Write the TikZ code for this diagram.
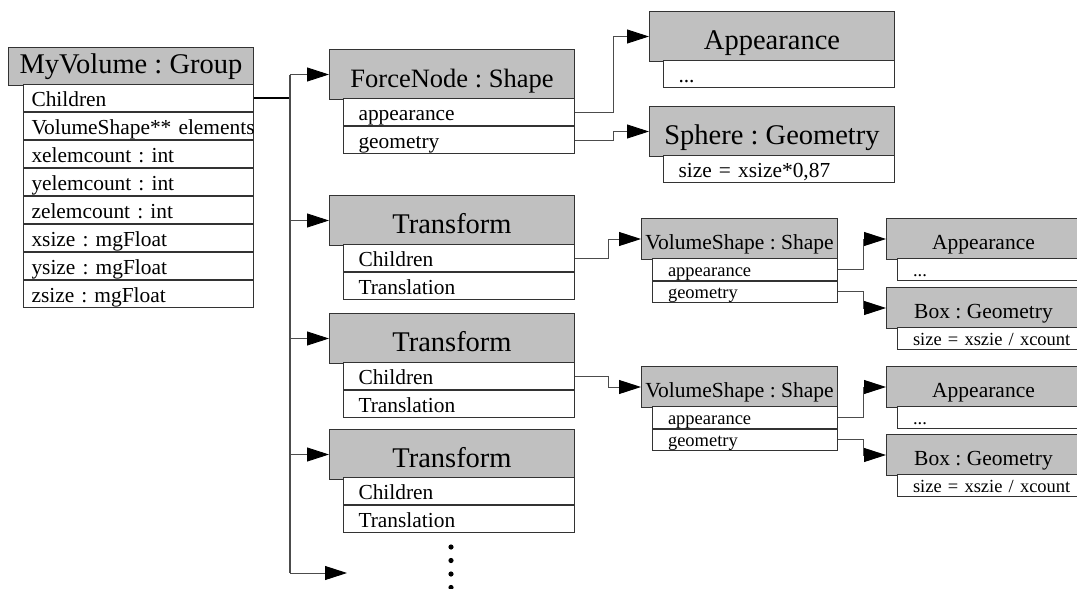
\documentclass[tikz,border=0pt]{standalone}
\usepackage{fontspec}
\setmainfont{Liberation Serif}
\usetikzlibrary{arrows.meta,positioning}
\definecolor{hdrgray}{RGB}{192,192,192}
\frenchspacing
\hyphenpenalty=10000
\begin{document}
\begin{tikzpicture}[x=1pt, y=-1pt,
            umlbox/.style={draw=black!80, line width=1pt, inner sep=0pt, anchor=north west},
            bighdr/.style={umlbox, fill=hdrgray, minimum width=#1, minimum height=50pt, text height=38pt, text depth=12pt, font=\fontsize{28.5}{30}\selectfont},
            smallhdr/.style={umlbox, fill=hdrgray, minimum width=#1, minimum height=41pt, text height=30.5pt, text depth=10.5pt, font=\fontsize{21.5}{23}\selectfont},
            bigfield/.style={umlbox, fill=white, minimum width=#1, text width=#1-30pt, align=left, minimum height=27pt, text height=21.5pt, text depth=5.5pt, font=\fontsize{21.4}{23}\selectfont},
            smallfield/.style={umlbox, fill=white, minimum width=#1, text width=#1-31pt, align=left, minimum height=21.5pt, text height=17.5pt, text depth=4pt, font=\fontsize{18.5}{20}\selectfont},
            link/.style={draw=black!70, line width=0.9pt},
            arrowlink/.style={link, -{Triangle[length=22pt,width=14pt,black]}}
            ]
            \useasboundingbox (0,0) rectangle (1077,589);

            % the group
            \node[bighdr=245pt, minimum height=38pt, text height=26pt] (grp) at (8,47) {MyVolume : Group};
            \node[bigfield=230pt, text width=214pt] (grp-ch) at ([xshift=15pt,yshift=2pt]grp.south west) {Children};
            \node[bigfield=230pt, text width=214pt, below=0pt of grp-ch] (grp-el) {\mbox{VolumeShape** elements}};
            \node[bigfield=230pt, text width=214pt, below=0pt of grp-el] (grp-xc) {xelemcount : int};
            \node[bigfield=230pt, text width=214pt, below=0pt of grp-xc] (grp-yc) {yelemcount : int};
            \node[bigfield=230pt, text width=214pt, below=0pt of grp-yc] (grp-zc) {zelemcount : int};
            \node[bigfield=230pt, text width=214pt, below=0pt of grp-zc] (grp-xs) {xsize : mgFloat};
            \node[bigfield=230pt, text width=214pt, below=0pt of grp-xs] (grp-ys) {ysize : mgFloat};
            \node[bigfield=230pt, text width=214pt, below=0pt of grp-ys] (grp-zs) {zsize : mgFloat};

            % force node
            \node[bighdr=245pt, font=\fontsize{26.5}{28}\selectfont] (fn) at (329,49) {ForceNode : Shape};
            \node[bigfield=231pt] (fn-app) at ([xshift=14pt,yshift=2pt]fn.south west) {appearance};
            \node[bigfield=231pt, below=0pt of fn-app] (fn-geo) {geometry};

            \node[bighdr=245pt] (app) at (649,11) {Appearance};
            \node[bigfield=231pt] (app-dots) at ([xshift=14pt,yshift=2pt]app.south west) {...};
            \node[bighdr=245pt] (sph) at (649,106) {Sphere : Geometry};
            \node[bigfield=231pt] (sph-size) at ([xshift=14pt,yshift=2pt]sph.south west) {\mbox{size = xsize*0,87}};

            % transforms
            \node[bighdr=245pt] (tf1) at (329,195) {Transform};
            \node[bigfield=231pt] (tf1-ch) at ([xshift=14pt,yshift=2pt]tf1.south west) {Children};
            \node[bigfield=231pt, below=0pt of tf1-ch] (tf1-tr) {Translation};
            \node[bighdr=245pt] (tf2) at (329,313) {Transform};
            \node[bigfield=231pt] (tf2-ch) at ([xshift=14pt,yshift=2pt]tf2.south west) {Children};
            \node[bigfield=231pt, below=0pt of tf2-ch] (tf2-tr) {Translation};
            \node[bighdr=245pt] (tf3) at (329,429) {Transform};
            \node[bigfield=231pt] (tf3-ch) at ([xshift=14pt,yshift=3pt]tf3.south west) {Children};
            \node[bigfield=231pt, below=0pt of tf3-ch] (tf3-tr) {Translation};

            % volume shapes
            \node[smallhdr=196pt] (vs1) at (641,218) {VolumeShape : Shape};
            \node[smallfield=185pt] (vs1-app) at ([xshift=11pt,yshift=2pt]vs1.south west) {appearance};
            \node[smallfield=185pt, below=0pt of vs1-app] (vs1-geo) {geometry};
            \node[smallhdr=194pt] (sapp1) at (886,218) {Appearance};
            \node[smallfield=183pt] (sapp1-dots) at ([xshift=11pt,yshift=2pt]sapp1.south west) {...};
            \node[smallhdr=194pt] (sbox1) at (886,287) {Box : Geometry};
            \node[smallfield=183pt] (sbox1-size) at ([xshift=11pt,yshift=2pt]sbox1.south west) {\mbox{size = xszie / xcount}};

            \node[smallhdr=196pt] (vs2) at (641,366) {VolumeShape : Shape};
            \node[smallfield=185pt] (vs2-app) at ([xshift=11pt,yshift=2pt]vs2.south west) {appearance};
            \node[smallfield=185pt, below=0pt of vs2-app] (vs2-geo) {geometry};
            \node[smallhdr=194pt] (sapp2) at (886,366) {Appearance};
            \node[smallfield=183pt] (sapp2-dots) at ([xshift=11pt,yshift=2pt]sapp2.south west) {...};
            \node[smallhdr=194pt] (sbox2) at (886,434) {Box : Geometry};
            \node[smallfield=183pt] (sbox2-size) at ([xshift=11pt,yshift=2pt]sbox2.south west) {\mbox{size = xszie / xcount}};

            % children bus
            \coordinate (busend) at (290,573);
            \coordinate (more) at (347,573);
            \draw[line width=2pt] (grp-ch.east) -- (grp-ch.east -| busend);
            \draw[link, line width=1.4pt] (fn.west -| busend) -- (busend);
            \foreach \n in {fn,tf1,tf2,tf3}
                \draw[arrowlink] (\n.west -| busend) -- (\n.west);
            \draw[arrowlink] (busend) -- (more);

            \draw[arrowlink] (fn-app.east) -- ++(38,0) |- (app.west);
            \draw[arrowlink] (fn-geo.east) -- ++(38,0) |- (sph.west);
            \draw[arrowlink] (tf1-ch.east) -- ++(33,0) |- (vs1.west);
            \draw[arrowlink] (tf2-ch.east) -- ++(33,0) |- (vs2.west);
            \draw[arrowlink] (vs1-app.east) -- ++(25,0) |- (sapp1.west);
            \draw[arrowlink] (vs1-geo.east) -- ++(25,0) |- (sbox1.west);
            \draw[arrowlink] (vs2-app.east) -- ++(25,0) |- (sapp2.west);
            \draw[arrowlink] (vs2-geo.east) -- ++(25,0) |- (sbox2.west);

            \foreach \y in {547,560.5,574,587.5}
                \fill (451,\y) circle (2.6pt);

            \end{tikzpicture}
\end{document}
